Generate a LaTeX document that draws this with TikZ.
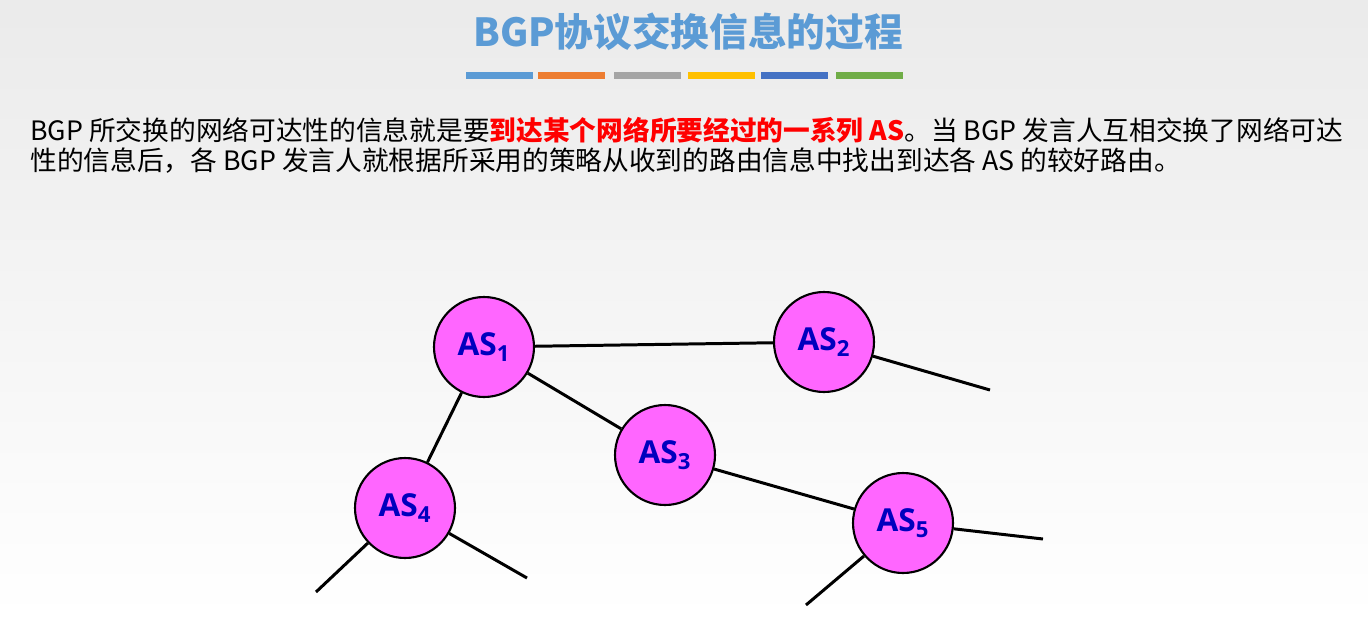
\documentclass[tikz,border=0pt]{standalone}
\usepackage{fontspec}
\setmainfont{Open Sans}
\newfontfamily\cjk{Noto Sans CJK SC}
\definecolor{titleblue}{RGB}{91,155,213}
\definecolor{asfill}{RGB}{255,102,255}
\definecolor{astext}{RGB}{0,0,190}
\tikzset{
  asnode/.style={circle,draw=black,line width=1.2pt,fill=asfill,minimum size=2cm,inner sep=0pt,
    text=astext,font=\bfseries\fontsize{18}{18}\selectfont},
  link/.style={line width=1.7pt}
}
\begin{document}
\begin{tikzpicture}[x=0.02cm,y=-0.02cm]
  \shade[top color=black!8,bottom color=white] (0,0) rectangle (1368,619);
  \useasboundingbox (0,0) rectangle (1368,619);
  \node[font=\cjk\bfseries\fontsize{22}{22}\selectfont,text=titleblue] (title) at (688,32) {BGP协议交换信息的过程};
  \foreach \x/\c in {466/{91,155,213},538/{237,125,49},614/{165,165,165},688/{255,192,0},761/{68,114,196},836/{112,173,71}}{
    \definecolor{barc}{RGB}{\c}
    \fill[barc] (\x,72) rectangle ++(67,7);
  }
  \node[anchor=west,align=left,inner sep=0pt,font=\cjk\fontsize{15.2}{17}\selectfont] (text) at (30,145) {%
    BGP 所交换的网络可达性的信息就是要{\color{red}\bfseries 到达某个网络所要经过的一系列 AS}。当 BGP 发言人互相交换了网络可达\\
    性的信息后，各 BGP 发言人就根据所采用的策略从收到的路由信息中找出到达各 AS 的较好路由。};
  % autonomous systems
  \node[asnode] (as1) at (484,347) {AS$_\mathbf{1}$};
  \node[asnode] (as2) at (824,342) {AS$_\mathbf{2}$};
  \node[asnode] (as3) at (665,455) {AS$_\mathbf{3}$};
  \node[asnode] (as4) at (405,508) {AS$_\mathbf{4}$};
  \node[asnode] (as5) at (903,523) {AS$_\mathbf{5}$};
  \coordinate (e2) at (990,390);
  \coordinate (e4a) at (316,592);
  \coordinate (e4b) at (527,578);
  \coordinate (e5a) at (1043,539);
  \coordinate (e5b) at (806,605);
  \draw[link] (as1) -- (as2);
  \draw[link] (as1) -- (as3);
  \draw[link] (as1) -- (as4);
  \draw[link] (as3) -- (as5);
  \draw[link] (as2) -- (e2);
  \draw[link] (as4) -- (e4a);
  \draw[link] (as4) -- (e4b);
  \draw[link] (as5) -- (e5a);
  \draw[link] (as5) -- (e5b);
\end{tikzpicture}
\end{document}
